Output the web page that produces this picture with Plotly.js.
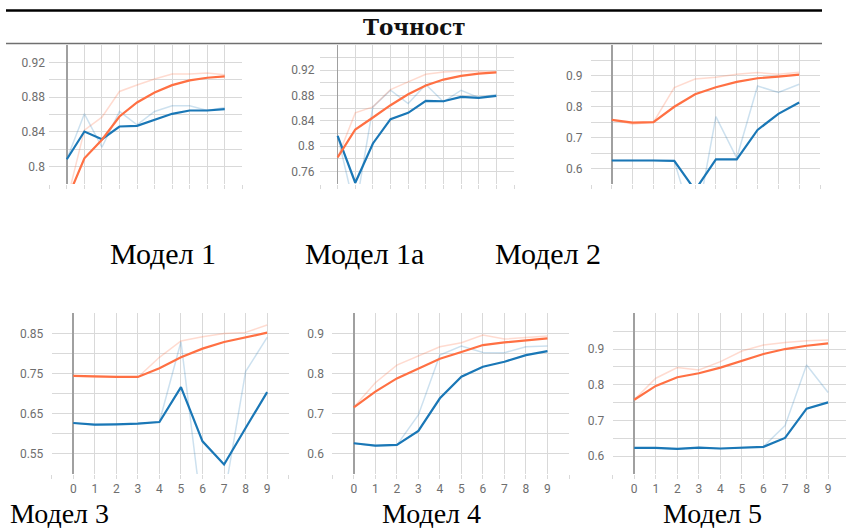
<!DOCTYPE html>
<html>
<head>
<meta charset="utf-8">
<script src="https://cdn.plot.ly/plotly-3.0.1.min.js"></script>
<style>html,body{margin:0;padding:0;background:#fff;}#chart{width:846px;height:528px;}</style>
</head>
<body>
<div id="chart"></div>
<script>
// ---------------- DATA ----------------
const epochs = [0, 1, 2, 3, 4, 5, 6, 7, 8, 9];
const epochTickVals = [-1, 0, 1, 2, 3, 4, 5, 6, 7, 8, 9, 10];
const epochTickText = ['', '0', '1', '2', '3', '4', '5', '6', '7', '8', '9', ''];

const chartTitle = 'Точност';
const modelNames = ['Модел 1', 'Модел 1а', 'Модел 2', 'Модел 3', 'Модел 4', 'Модел 5'];

// Модел 1
const m1TrainRaw = [0.760, 0.842, 0.857, 0.8865, 0.894, 0.9008, 0.9065, 0.9065, 0.9077, 0.9058];
const m1TrainSm  = [0.7615, 0.8096, 0.831, 0.8577, 0.8738, 0.8854, 0.8938, 0.8992, 0.9023, 0.9038];
const m1ValRaw   = [0.8085, 0.8608, 0.8223, 0.8635, 0.848, 0.8635, 0.870, 0.870, 0.8646, 0.868];
const m1ValSm    = [0.8085, 0.8404, 0.8315, 0.8462, 0.8469, 0.8538, 0.8608, 0.8646, 0.8646, 0.8662];
const m1GridY  = [0.78, 0.80, 0.82, 0.84, 0.86, 0.88, 0.90, 0.92, 0.94];
const m1LabelY = ['', '0.8', '', '0.84', '', '0.88', '', '0.92', ''];

// Модел 1а
const m1aTrainRaw = [0.782, 0.8526, 0.8621, 0.8895, 0.9016, 0.9137, 0.9174, 0.9184, 0.918, 0.9174];
const m1aTrainSm  = [0.7821, 0.8263, 0.8453, 0.8647, 0.8821, 0.8958, 0.9053, 0.9111, 0.9147, 0.9168];
const m1aValRaw   = [0.8163, 0.697, 0.8621, 0.8884, 0.8674, 0.8974, 0.870, 0.8884, 0.8768, 0.8816];
const m1aValSm    = [0.8163, 0.742, 0.8042, 0.8426, 0.8526, 0.8716, 0.871, 0.8779, 0.8763, 0.8795];
const m1aGridY  = [0.74, 0.76, 0.78, 0.80, 0.82, 0.84, 0.86, 0.88, 0.90, 0.92, 0.94, 0.96];
const m1aLabelY = ['', '0.76', '', '0.8', '', '0.84', '', '0.88', '', '0.92', '', ''];

// Модел 2
const m2TrainRaw = [0.7575, 0.7446, 0.750, 0.862, 0.890, 0.8956, 0.9053, 0.911, 0.905, 0.9117];
const m2TrainSm  = [0.7575, 0.7489, 0.750, 0.800, 0.8406, 0.8632, 0.8805, 0.8923, 0.8977, 0.9042];
const m2ValRaw   = [0.626, 0.627, 0.626, 0.624, 0.400, 0.768, 0.634, 0.8675, 0.846, 0.873];
const m2ValSm    = [0.626, 0.627, 0.626, 0.625, 0.530, 0.630, 0.630, 0.725, 0.777, 0.8136];
const m2GridY  = [0.55, 0.60, 0.65, 0.70, 0.75, 0.80, 0.85, 0.90, 0.95, 1.0];
const m2LabelY = ['', '0.6', '', '0.7', '', '0.8', '', '0.9', '', ''];

// Модел 3
const m3TrainRaw = [0.744, 0.742, 0.742, 0.741, 0.7905, 0.831, 0.8417, 0.850, 0.8525, 0.8707];
const m3TrainSm  = [0.7442, 0.7426, 0.7417, 0.7417, 0.7632, 0.7905, 0.812, 0.8285, 0.8393, 0.8517];
const m3ValRaw   = [0.627, 0.622, 0.624, 0.626, 0.630, 0.8293, 0.390, 0.440, 0.755, 0.840];
const m3ValSm    = [0.6269, 0.6227, 0.6236, 0.6252, 0.6293, 0.7161, 0.5814, 0.5236, 0.6145, 0.7037];
const m3GridY  = [0.50, 0.55, 0.60, 0.65, 0.70, 0.75, 0.80, 0.85, 0.90];
const m3LabelY = ['', '0.55', '', '0.65', '', '0.75', '', '0.85', ''];

// Модел 4
const m4TrainRaw = [0.716, 0.7773, 0.8212, 0.8436, 0.8668, 0.8767, 0.8958, 0.8858, 0.890, 0.8933];
const m4TrainSm  = [0.716, 0.755, 0.788, 0.813, 0.837, 0.8535, 0.871, 0.8775, 0.8833, 0.8875];
const m4ValRaw   = [0.6265, 0.620, 0.622, 0.697, 0.846, 0.8684, 0.8527, 0.852, 0.8668, 0.8684];
const m4ValSm    = [0.6265, 0.6207, 0.6224, 0.6572, 0.7384, 0.7922, 0.8171, 0.8295, 0.846, 0.856];
const m4GridY  = [0.55, 0.60, 0.65, 0.70, 0.75, 0.80, 0.85, 0.90, 0.95];
const m4LabelY = ['', '0.6', '', '0.7', '', '0.8', '', '0.9', ''];

// Модел 5
const m5TrainRaw = [0.758, 0.8182, 0.8479, 0.8414, 0.8646, 0.8943, 0.911, 0.9185, 0.9231, 0.925];
const m5TrainSm  = [0.7578, 0.7968, 0.821, 0.8321, 0.8479, 0.8674, 0.886, 0.8999, 0.9092, 0.9157];
const m5ValRaw   = [0.623, 0.623, 0.620, 0.624, 0.621, 0.623, 0.627, 0.6854, 0.8553, 0.7783];
const m5ValSm    = [0.6232, 0.6232, 0.6204, 0.6241, 0.6214, 0.6232, 0.626, 0.651, 0.7328, 0.7504];
const m5GridY  = [0.55, 0.60, 0.65, 0.70, 0.75, 0.80, 0.85, 0.90, 0.95, 1.0];
const m5LabelY = ['', '0.6', '', '0.7', '', '0.8', '', '0.9', '', ''];

// ---------------- LAYOUT / STYLE ----------------
const W = 846, H = 528;
const ORANGE = '#ff7043', BLUE = '#1a77b6';
const GRID = '#d9d9d9', TICKFONT = {family: 'Roboto, Arial, sans-serif', size: 12, color: '#6e6e6e'};

const panels = [
  {tr: m1TrainRaw, ts: m1TrainSm, vr: m1ValRaw, vs: m1ValSm, gy: m1GridY, ly: m1LabelY,
   px: [49.3, 242.3], py: [45, 184], xr: [-1, 10], showX: false, yStand: 1, label: [162.5, 253], lsize: 30},
  {tr: m1aTrainRaw, ts: m1aTrainSm, vr: m1aValRaw, vs: m1aValSm, gy: m1aGridY, ly: m1aLabelY,
   px: [320, 514], py: [45, 184], xr: [-1, 10], showX: false, yStand: 2, label: [364, 253], lsize: 30},
  {tr: m2TrainRaw, ts: m2TrainSm, vr: m2ValRaw, vs: m2ValSm, gy: m2GridY, ly: m2LabelY,
   px: [591, 820], py: [45, 184], xr: [-1, 10], showX: false, yStand: 5, label: [547.5, 253], lsize: 30},
  {tr: m3TrainRaw, ts: m3TrainSm, vr: m3ValRaw, vs: m3ValSm, gy: m3GridY, ly: m3LabelY,
   px: [51.7, 288.7], py: [313.3, 474], xr: [-1, 10], showX: true, yStand: 5, label: [59, 513], lsize: 28},
  {tr: m4TrainRaw, ts: m4TrainSm, vr: m4ValRaw, vs: m4ValSm, gy: m4GridY, ly: m4LabelY,
   px: [332.3, 569], py: [313.3, 474], xr: [-1, 10], showX: true, yStand: 5, label: [431, 513], lsize: 28},
  {tr: m5TrainRaw, ts: m5TrainSm, vr: m5ValRaw, vs: m5ValSm, gy: m5GridY, ly: m5LabelY,
   px: [612.7, 846], py: [313.3, 474], xr: [-1, 9.83], showX: true, yStand: 5, label: [712, 513], lsize: 28}
];

const traces = [];
const layout = {
  width: W, height: H,
  margin: {l: 0, r: 0, t: 0, b: 0, pad: 0},
  paper_bgcolor: '#ffffff', plot_bgcolor: '#ffffff',
  showlegend: false,
  annotations: [], shapes: []
};

panels.forEach((p, i) => {
  const n = i + 1;
  const xa = 'x' + (n === 1 ? '' : n), ya = 'y' + (n === 1 ? '' : n);
  const xKey = 'xaxis' + (n === 1 ? '' : n), yKey = 'yaxis' + (n === 1 ? '' : n);
  const line = (y, color, width, opacity) => ({
    type: 'scatter', mode: 'lines', x: epochs, y: y, xaxis: xa, yaxis: ya,
    line: {color: color, width: width}, opacity: opacity, hoverinfo: 'skip'
  });
  traces.push(line(p.vr, BLUE, 1.5, 0.22));
  traces.push(line(p.tr, ORANGE, 1.5, 0.25));
  traces.push(line(p.vs, BLUE, 2.2, 1));
  traces.push(line(p.ts, ORANGE, 2.2, 1));

  layout[xKey] = {
    domain: [p.px[0] / W, p.px[1] / W], anchor: ya,
    range: p.xr, tickmode: 'array', tickvals: epochTickVals, ticktext: epochTickText,
    showticklabels: p.showX, tickfont: TICKFONT,
    ticks: 'outside', ticklen: 4, tickcolor: GRID, tickwidth: 1,
    showgrid: true, gridcolor: GRID, gridwidth: 1,
    zeroline: true, zerolinecolor: '#a0a0a0', zerolinewidth: 1.6,
    showline: false, fixedrange: true
  };
  layout[yKey] = {
    domain: [1 - p.py[1] / H, 1 - p.py[0] / H], anchor: xa,
    range: [p.gy[0], p.gy[p.gy.length - 1]],
    tickmode: 'array', tickvals: p.gy, ticktext: p.ly, tickfont: TICKFONT,
    ticks: 'outside', ticklen: p.yStand, tickcolor: 'rgba(0,0,0,0)',
    showgrid: true, gridcolor: GRID, gridwidth: 1,
    zeroline: false, showline: false, fixedrange: true
  };
  layout.annotations.push({
    xref: 'paper', yref: 'paper', x: p.label[0] / W, y: 1 - p.label[1] / H,
    xanchor: 'center', yanchor: 'middle', showarrow: false,
    text: modelNames[i],
    font: {family: '"Liberation Serif", "Times New Roman", serif', size: p.lsize, color: '#000'}
  });
});

layout.annotations.push({
  xref: 'paper', yref: 'paper', x: 414.5 / W, y: 1 - 27.5 / H,
  xanchor: 'center', yanchor: 'middle', showarrow: false,
  text: '<b>' + chartTitle + '</b>',
  font: {family: '"DejaVu Serif", serif', size: 21.5, color: '#111'}
});
layout.shapes.push({type: 'line', xref: 'paper', yref: 'paper',
  x0: 6 / W, x1: 822 / W, y0: 1 - 10.5 / H, y1: 1 - 10.5 / H,
  line: {color: '#000', width: 2.5}});
layout.shapes.push({type: 'line', xref: 'paper', yref: 'paper',
  x0: 6 / W, x1: 822 / W, y0: 1 - 43.5 / H, y1: 1 - 43.5 / H,
  line: {color: '#707070', width: 1.6}});

Plotly.newPlot('chart', traces, layout, {displayModeBar: false, staticPlot: true});
</script>
</body>
</html>
